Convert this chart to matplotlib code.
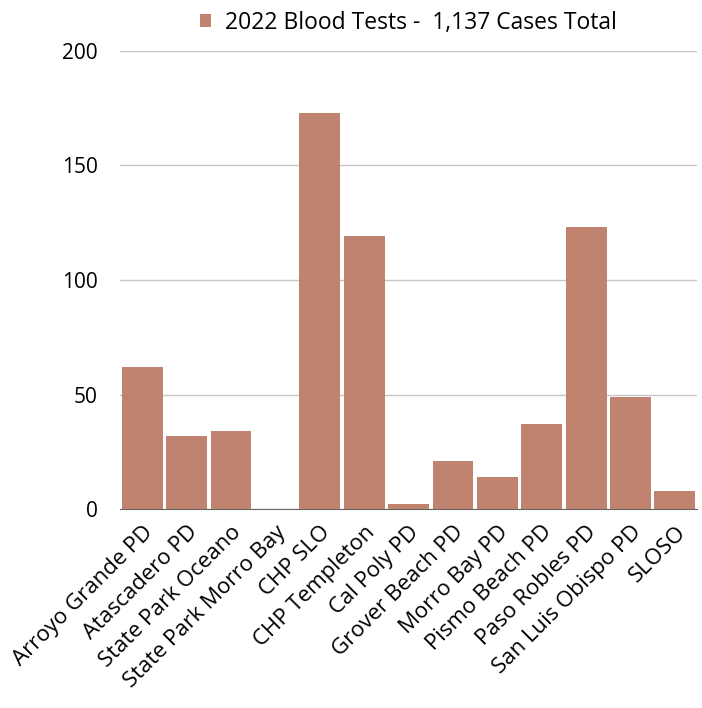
import matplotlib
matplotlib.use("Agg")
import matplotlib.pyplot as plt

categories = ["Arroyo Grande PD", "Atascadero PD", "State Park Oceano", "State Park Morro Bay",
              "CHP SLO", "CHP Templeton", "Cal Poly PD", "Grover Beach PD", "Morro Bay PD",
              "Pismo Beach PD", "Paso Robles PD", "San Luis Obispo PD", "SLOSO"]
values = [62, 32, 34, 0, 173, 119, 2, 21, 14, 37, 123, 49, 8]
series_name = "2022 Blood Tests -  1,137 Cases Total"
yticks = [0, 50, 100, 150, 200]

plt.rcParams['font.family'] = ['Open Sans', 'DejaVu Sans']
fig = plt.figure(figsize=(7.02, 7.08), dpi=100)
ax = fig.add_axes([0.171, 0.281, 0.822, 0.647])
color = "#c0836f"
x = range(len(categories))
ax.bar(x, values, width=0.92, color=color, label=series_name, zorder=3)
ax.set_ylim(0, 200)
ax.set_xlim(-0.5, len(categories) - 0.5)
ax.set_yticks(yticks)
ax.set_yticklabels([str(t) for t in yticks], fontsize=15, fontweight="medium")
ax.yaxis.grid(True, color="#c6c6c6", linewidth=1.0, zorder=0)
ax.set_axisbelow(True)
for s in ["top", "right", "left"]:
    ax.spines[s].set_visible(False)
ax.spines["bottom"].set_color("#666666")
ax.tick_params(axis="y", length=0, pad=16)
ax.tick_params(axis="x", length=0, pad=9)
ax.set_xticks(list(x))
ax.set_xticklabels(categories, rotation=45, ha="right", rotation_mode="anchor", fontsize=16,
                   fontweight="medium")
leg = ax.legend(loc="lower center", bbox_to_anchor=(0.5, 1.0), frameon=False,
                prop={"size": 16.5, "weight": "medium"},
                handlelength=0.5, handleheight=0.5, handletextpad=0.6, borderaxespad=0.3)
fig.savefig("out.png", dpi=100)
